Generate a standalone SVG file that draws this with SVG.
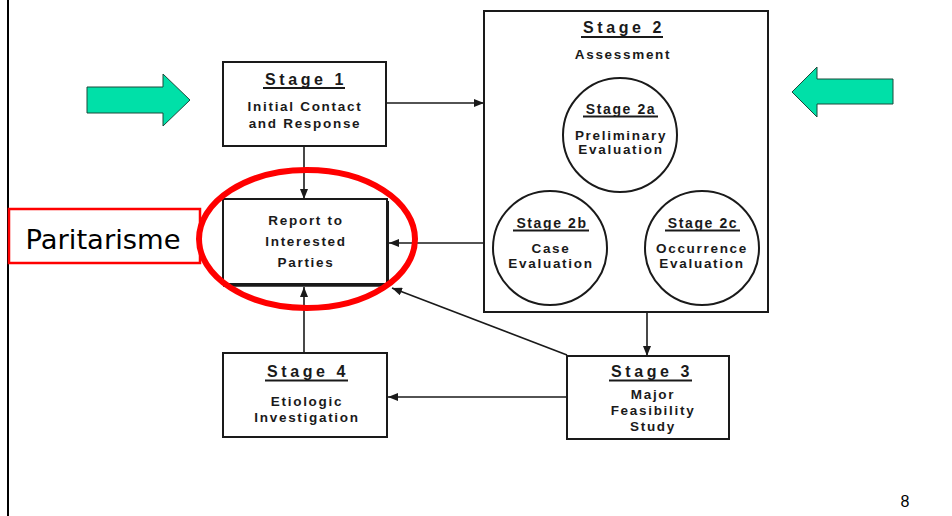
<svg xmlns="http://www.w3.org/2000/svg" width="952" height="516" viewBox="0 0 952 516">
<defs>
<marker id="ah" viewBox="0 0 10 8" refX="10" refY="4" markerWidth="10" markerHeight="8" markerUnits="userSpaceOnUse" orient="auto">
<path d="M0,0 L10,4 L0,8 z" fill="#1a1a1a"/>
</marker>
</defs>
<style>
.box{fill:#fff;stroke:#1a1a1a;stroke-width:2}
.circ{fill:#fff;stroke:#1a1a1a;stroke-width:2}
.ln{fill:none;stroke:#1a1a1a;stroke-width:1.6}
.t{font-family:"Liberation Sans",Arial,sans-serif;font-weight:bold;fill:#1a1a1a;text-anchor:middle}
.h{font-size:16px;letter-spacing:3.6px}
.hs{font-size:14px;letter-spacing:1.6px}
.b{font-size:13.5px;letter-spacing:1.7px}
.u{stroke:#1a1a1a;stroke-width:1.8}
.green{fill:#00e0a8;stroke:#1a4a3a;stroke-width:1}
</style>
<rect width="952" height="516" fill="#fff"/>
<line x1="8" y1="0" x2="8" y2="516" stroke="#000" stroke-width="2"/>

<g id="green-arrow-left">
<path class="green" d="M87,87 H163 V74 L190,100 L163,126 V113 H87 Z"/>
</g>
<g id="green-arrow-right">
<path class="green" d="M893,79 H817 V67 L792,92 L817,117 V104 H893 Z"/>
</g>

<g id="connectors">
<line class="ln" x1="386" y1="103" x2="484" y2="103" marker-end="url(#ah)"/>
<line class="ln" x1="304" y1="146" x2="304" y2="199" marker-end="url(#ah)"/>
<line class="ln" x1="484" y1="243" x2="389" y2="243" marker-end="url(#ah)"/>
<line class="ln" x1="304" y1="353" x2="304" y2="287" marker-end="url(#ah)"/>
<line class="ln" x1="567" y1="355" x2="392" y2="288" marker-end="url(#ah)"/>
<line class="ln" x1="647" y1="312" x2="647" y2="356" marker-end="url(#ah)"/>
<line class="ln" x1="567" y1="397" x2="388" y2="397" marker-end="url(#ah)"/>
<line class="ln" x1="570" y1="194" x2="583" y2="180"/>
<line class="ln" x1="654" y1="180" x2="672" y2="200"/>
<line class="ln" x1="608" y1="257" x2="644" y2="257"/>
</g>

<g id="stage1">
<rect class="box" x="223" y="62" width="163" height="84"/>
<text class="t h" x="306" y="85">Stage 1</text>
<line class="u" x1="263" y1="88" x2="345" y2="88"/>
<text class="t b" x="305" y="111">Initial Contact</text>
<text class="t b" x="305" y="128">and Response</text>
</g>

<g id="stage2">
<rect class="box" x="484" y="11" width="284" height="301"/>
<text class="t h" x="624" y="33">Stage 2</text>
<line class="u" x1="581" y1="37" x2="663" y2="37"/>
<text class="t b" x="623" y="59">Assessment</text>
</g>

<g id="stage2a">
<circle class="circ" cx="620" cy="135" r="57"/>
<text class="t hs" x="621" y="114">Stage 2a</text>
<line class="u" x1="583" y1="116.5" x2="658" y2="116.5"/>
<text class="t b" x="621" y="140">Preliminary</text>
<text class="t b" x="621" y="154">Evaluation</text>
</g>

<g id="stage2b">
<circle class="circ" cx="550" cy="248" r="57"/>
<text class="t hs" x="552" y="228">Stage 2b</text>
<line class="u" x1="513" y1="230.5" x2="589" y2="230.5"/>
<text class="t b" x="551" y="253">Case</text>
<text class="t b" x="551" y="268">Evaluation</text>
</g>

<g id="stage2c">
<circle class="circ" cx="702" cy="248" r="57"/>
<text class="t hs" x="703" y="228">Stage 2c</text>
<line class="u" x1="665" y1="230.5" x2="740" y2="230.5"/>
<text class="t b" x="702" y="253">Occurrence</text>
<text class="t b" x="702" y="268">Evaluation</text>
</g>

<g id="report">
<rect class="box" x="223" y="199" width="164" height="85"/>
<line stroke="#1a1a1a" stroke-width="3.5" x1="223" y1="285" x2="389" y2="285"/>
<line stroke="#1a1a1a" stroke-width="3" x1="387.5" y1="201" x2="387.5" y2="285"/>
<text class="t b" x="306" y="225">Report to</text>
<text class="t b" x="306" y="246">Interested</text>
<text class="t b" x="306" y="267">Parties</text>
</g>

<g id="stage4">
<rect class="box" x="223" y="353" width="164" height="84"/>
<text class="t h" x="308" y="377">Stage 4</text>
<line class="u" x1="265" y1="380.5" x2="348" y2="380.5"/>
<text class="t b" x="307" y="406">Etiologic</text>
<text class="t b" x="307" y="422">Investigation</text>
</g>

<g id="stage3">
<rect class="box" x="567" y="356" width="162" height="83"/>
<text class="t h" x="652" y="377">Stage 3</text>
<line class="u" x1="609" y1="380.5" x2="692" y2="380.5"/>
<text class="t b" x="653" y="399">Major</text>
<text class="t b" x="653" y="415">Feasibility</text>
<text class="t b" x="653" y="431">Study</text>
</g>

<g id="paritarisme">
<rect x="9" y="209" width="191" height="54" fill="#fff" stroke="#ff0000" stroke-width="2.5"/>
<text x="103" y="249" font-family="'DejaVu Sans',sans-serif" font-size="27" fill="#000" text-anchor="middle" textLength="155" lengthAdjust="spacingAndGlyphs">Paritarisme</text>
</g>

<g id="highlight">
<ellipse cx="307" cy="239" rx="108" ry="69" fill="none" stroke="#ff0000" stroke-width="6"/>
</g>

<text x="905" y="507" font-family="'Liberation Sans',Arial,sans-serif" font-size="16" fill="#000" text-anchor="middle">8</text>
</svg>
